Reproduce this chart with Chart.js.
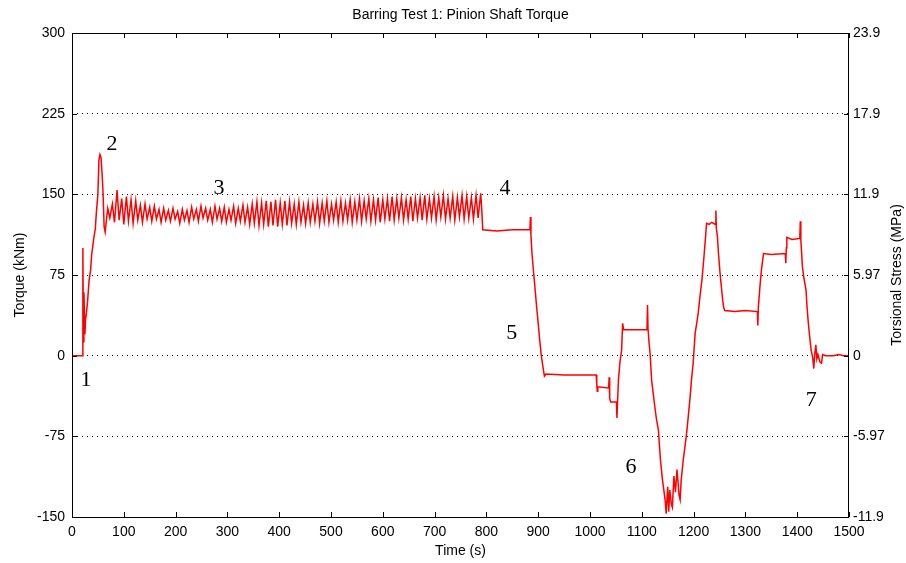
<!DOCTYPE html>
<html>
<head>
<meta charset="utf-8">
<title>Barring Test 1: Pinion Shaft Torque</title>
<script src="https://cdn.jsdelivr.net/npm/chart.js@4.4.0/dist/chart.umd.min.js"></script>
<style>
  html, body { margin: 0; padding: 0; background: #fff; }
  #wrap { position: relative; width: 906px; height: 563px; }
</style>
</head>
<body>
<div id="wrap"><canvas id="torque-chart"></canvas></div>
<script>
// start-up: motor kicks in and torque climbs to the first peak
const startTime = [0, 20, 21, 22, 23, 25, 26, 28, 30, 33,
                   36, 38, 42, 45, 47, 50, 52, 54, 56, 58,
                   60, 62, 64, 66];
const startTorque = [0, 0, 100, 13, 59, 20, 33, 40, 50, 70,
                     80, 94, 109, 118, 133, 150, 182, 187, 184, 170,
                     151, 120, 115, 124];

// steady barring: peak / trough pairs of the oscillation
const steadyTime = [
  69, 73, 78, 82, 87, 91, 96, 100, 105, 109,
  114, 118, 123, 127, 132, 136, 141, 145, 150, 154,
  159, 163, 168, 172, 177, 181, 186, 190, 195, 199,
  204, 208, 213, 217, 222, 226, 231, 235, 240, 244,
  249, 253, 258, 262, 267, 271, 276, 280, 285, 289,
  294, 298, 303, 307, 312, 316, 321, 325, 330, 334,
  339, 343, 348, 352, 357, 361, 366, 370, 375, 379,
  384, 388, 393, 397, 402, 406, 411, 415, 420, 424,
  429, 433, 438, 442, 447, 451, 456, 460, 465, 469,
  474, 478, 483, 487, 492, 496, 501, 505, 510, 514,
  519, 523, 528, 532, 537, 541, 546, 550, 555, 559,
  564, 568, 573, 577, 582, 586, 591, 595, 600, 604,
  609, 613, 618, 622, 627, 631, 636, 640, 645, 649,
  654, 658, 663, 667, 672, 676, 681, 685, 690, 694,
  699, 703, 708, 712, 717, 721, 726, 730, 735, 739,
  744, 748, 753, 757, 762, 766, 771, 775, 780, 784,
  789, 791, 793
];
const steadyTorque = [
  137, 128, 141, 124, 154, 126, 146, 122, 148, 125,
  145, 123, 144, 126, 140, 124, 141, 127, 138, 125,
  139, 127, 136, 124, 137, 126, 135, 125, 137, 127,
  134, 123, 136, 126, 135, 124, 138, 127, 136, 125,
  139, 128, 137, 126, 136, 124, 139, 127, 137, 125,
  138, 124, 136, 126, 139, 123, 137, 125, 140, 124,
  138, 122, 141, 123, 143, 121, 142, 122, 144, 120,
  143, 121, 145, 120, 142, 122, 144, 121, 143, 123,
  141, 122, 143, 124, 140, 123, 142, 124, 141, 125,
  143, 123, 142, 125, 144, 124, 141, 126, 143, 124,
  144, 125, 142, 126, 145, 124, 143, 126, 146, 125,
  144, 127, 146, 125, 145, 126, 147, 124, 145, 127,
  146, 125, 148, 126, 146, 128, 147, 126, 145, 127,
  148, 125, 146, 128, 147, 126, 149, 127, 146, 128,
  148, 126, 147, 129, 149, 127, 146, 128, 148, 126,
  147, 129, 149, 127, 148, 128, 147, 127, 149, 128,
  151, 136, 117
];

// stop and reversal steps
const stepTime = [
  820, 850, 884, 885, 886, 888, 891, 894, 897, 900,
  903, 906, 909, 912, 915, 950, 1000, 1012, 1013, 1014,
  1015, 1036, 1037, 1038, 1040, 1051, 1052, 1053, 1055, 1058,
  1061, 1063, 1065, 1080, 1110, 1111, 1112, 1114, 1116, 1119,
  1122, 1125, 1128, 1132, 1136, 1140, 1145, 1147, 1150, 1152,
  1154, 1157, 1159, 1162, 1165, 1168, 1172, 1174, 1176, 1180,
  1184, 1187, 1190, 1193, 1196, 1199, 1203, 1206, 1209, 1213,
  1216, 1220, 1223, 1225, 1230, 1235, 1242, 1243, 1244, 1246,
  1248, 1251, 1254, 1256, 1258, 1260, 1280, 1300, 1323, 1324,
  1325, 1328, 1331, 1335, 1350, 1377, 1378, 1379, 1380, 1390,
  1405, 1406, 1407, 1410, 1413, 1417, 1419, 1421, 1424, 1427,
  1430, 1432, 1434, 1436, 1438, 1440, 1444, 1447, 1449, 1455,
  1470, 1480, 1490, 1500
];
const stepTorque = [
  116, 117, 117, 129, 112, 95, 78, 62, 45, 30,
  14, 0, -10, -19, -17, -18, -18, -18, -26, -33,
  -29, -30, -20, -40, -43, -43, -58, -45, -22, -5,
  5, 30, 24, 24, 24, 47, 25, 12, 2, -23,
  -35, -47, -58, -69, -97, -116, -134, -147, -122, -145,
  -125, -138, -141, -112, -127, -106, -130, -134, -116, -97,
  -82, -70, -55, -40, -22, -8, 21, 30, 40, 58,
  70, 92, 110, 123, 122, 124, 122, 135, 118, 111,
  95, 77, 62, 52, 45, 42, 41, 42, 41, 28,
  45, 64, 80, 95, 94, 95, 86, 100, 110, 108,
  109, 125, 108, 83, 72, 61, 45, 33, 18, 5,
  -2, -12, 2, 10, -3, 1, -6, -7, 1, 0,
  0, 1, 0, 0
];

// left axis ticks (kNm) and matching stress labels on the right (MPa)
const torqueTicks = [-150, -75, 0, 75, 150, 225, 300];
const stressLabels = ['-11.9', '-5.97', '0', '5.97', '11.9', '17.9', '23.9'];

// numbered phase markers, placed in data units
const markerText = ['1', '2', '3', '4', '5', '6', '7'];
const markerTime = [27, 77, 284, 836, 849, 1079, 1427];
const markerTorque = [-23, 197, 156, 156, 21, -104, -41];

const UI_FONT = '"Liberation Sans", Arial, sans-serif';

const timeS = startTime.concat(steadyTime, stepTime);
const torqueKNm = startTorque.concat(steadyTorque, stepTorque);
const points = timeS.map((t, i) => ({ x: t, y: torqueKNm[i] }));

// box, inward ticks, axis titles and phase numbers
const framePlugin = {
  id: 'frame',
  afterDraw(chart) {
    const { ctx, chartArea: a, scales } = chart;
    ctx.save();
    ctx.strokeStyle = '#000';
    ctx.lineWidth = 1;
    ctx.strokeRect(a.left + 0.5, a.top + 0.5, a.right - a.left - 1, a.bottom - a.top);

    ctx.beginPath();
    scales.x.ticks.forEach(t => {
      const px = Math.round(scales.x.getPixelForValue(t.value)) + 0.5;
      ctx.moveTo(px, a.bottom); ctx.lineTo(px, a.bottom - 5);
      ctx.moveTo(px, a.top); ctx.lineTo(px, a.top + 5);
    });
    scales.y.ticks.forEach(t => {
      const py = Math.round(scales.y.getPixelForValue(t.value)) + 0.5;
      ctx.moveTo(a.left, py); ctx.lineTo(a.left + 5, py);
      ctx.moveTo(a.right, py); ctx.lineTo(a.right - 5, py);
    });
    ctx.stroke();

    ctx.fillStyle = '#000';
    ctx.font = '14px ' + UI_FONT;
    ctx.textAlign = 'center';
    ctx.textBaseline = 'middle';
    const cx = (a.left + a.right) / 2;
    const cy = (a.top + a.bottom) / 2;
    ctx.fillText('Barring Test 1: Pinion Shaft Torque', cx, 15);
    ctx.fillText('Time (s)', cx, 551);

    ctx.save();
    ctx.translate(20, cy);
    ctx.rotate(-Math.PI / 2);
    ctx.fillText('Torque (kNm)', 0, 0);
    ctx.restore();

    ctx.save();
    ctx.translate(897, cy);
    ctx.rotate(-Math.PI / 2);
    ctx.fillText('Torsional Stress (MPa)', 0, 0);
    ctx.restore();

    ctx.font = '22px "Liberation Serif", "Times New Roman", serif';
    markerText.forEach((m, i) => {
      ctx.fillText(m, scales.x.getPixelForValue(markerTime[i]), scales.y.getPixelForValue(markerTorque[i]));
    });
    ctx.restore();
  }
};

const canvas = document.getElementById('torque-chart');
new Chart(canvas, {
  type: 'line',
  data: {
    datasets: [{
      label: 'Pinion shaft torque',
      data: points,
      borderColor: '#ff0000',
      borderWidth: 1.5,
      pointRadius: 0,
      tension: 0,
      fill: false
    }]
  },
  options: {
    responsive: true,
    maintainAspectRatio: false,
    animation: false,
    devicePixelRatio: 1,
    layout: { padding: { top: 33, left: 0, right: 0, bottom: 0 } },
    plugins: {
      legend: { display: false },
      tooltip: { enabled: false },
      title: { display: false }
    },
    scales: {
      x: {
        type: 'linear',
        min: 0,
        max: 1500,
        ticks: {
          stepSize: 100,
          autoSkip: false,
          maxRotation: 0,
          padding: 7,
          color: '#000',
          font: { family: UI_FONT, size: 14 },
          callback: v => String(v)
        },
        grid: { display: false, drawTicks: false },
        border: { display: false },
        afterFit: s => { s.height = 46; }
      },
      y: {
        position: 'left',
        min: -150,
        max: 300,
        afterBuildTicks: s => { s.ticks = torqueTicks.map(v => ({ value: v })); },
        ticks: {
          padding: 7,
          color: '#000',
          font: { family: UI_FONT, size: 14 }
        },
        grid: {
          drawTicks: false,
          lineWidth: 1,
          color: c => (c.tick && (c.tick.value === 300 || c.tick.value === -150)) ? 'rgba(0,0,0,0)' : '#000'
        },
        border: { display: false, dash: [1, 4] },
        afterFit: s => { s.width = 72; }
      },
      y2: {
        position: 'right',
        min: -150,
        max: 300,
        afterBuildTicks: s => { s.ticks = torqueTicks.map(v => ({ value: v })); },
        ticks: {
          padding: 4,
          color: '#000',
          font: { family: UI_FONT, size: 14 },
          callback: v => stressLabels[torqueTicks.indexOf(v)]
        },
        grid: { display: false, drawTicks: false },
        border: { display: false },
        afterFit: s => { s.width = 57; }
      }
    }
  },
  plugins: [framePlugin]
});
</script>
</body>
</html>
